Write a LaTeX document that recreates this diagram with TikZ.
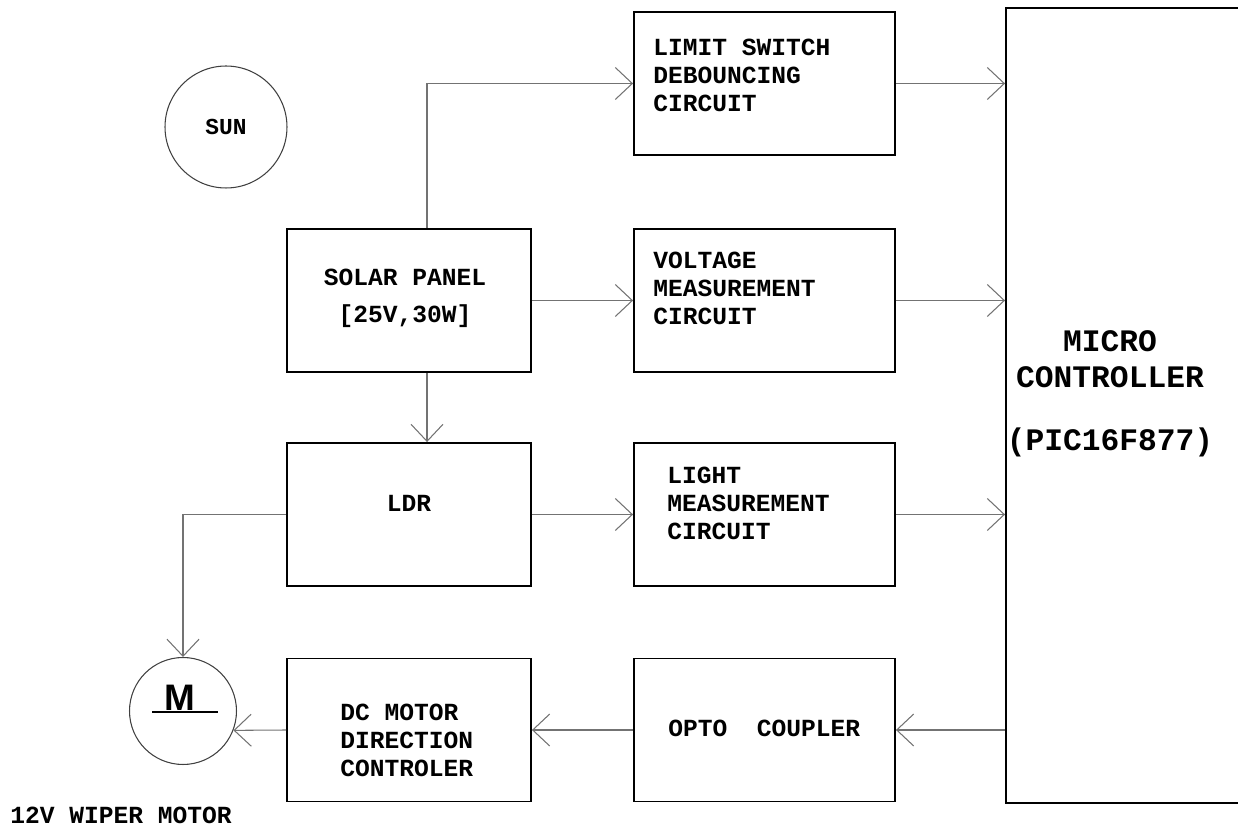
\documentclass[tikz,border=0pt]{standalone}
\usepackage{fontspec}
\setmainfont{Liberation Mono}
\newfontfamily\motorfont{Liberation Sans}
\usetikzlibrary{arrows.meta}
\usetikzlibrary{positioning}
\tikzset{
  Blk/.style={
    rectangle, draw=black, line width=1.1pt,
    minimum width=5.22cm, minimum height=2.86cm, inner sep=0pt,
  },
  BigBlk/.style={Blk, minimum width=4.88cm},
  Txt/.style={
    font=\bfseries\fontsize{14}{15.9}\selectfont, align=left, inner sep=0pt,
  },
  Ball/.style={circle, draw=black!75, line width=0.6pt, inner sep=0pt},
  Wire/.style={draw=black!55, line width=0.6pt, -{Straight Barb[length=3.4mm, width=6.4mm]}},
}

\begin{document}
\begin{tikzpicture}[x=0.02cm, y=-0.02cm]
\clip (0,0) rectangle (1238,827);
\node[Ball, minimum size=2.44cm] (sun) at (226,127) {};
\node[Txt, font=\bfseries\fontsize{13}{15}\selectfont] (sunT) at (226,127) {SUN};
\node[BigBlk] (solar) at (409,300.5) {};
\node[Txt, align=center, font=\bfseries\fontsize{14}{21}\selectfont] (solarT) at (405,298) {SOLAR PANEL\\{[}25V,30W{]}};
\node[BigBlk] (ldr) at (409,514.5) {};
\node[Txt] (ldrT) at (409,503) {LDR};
\node[BigBlk] (dcm) at (409,730) {};
\node[Txt, anchor=west] (dcmT) at (340,740) {DC MOTOR\\DIRECTION\\CONTROLER};
\node[Blk] (limit) at (764.5,83.5) {};
\node[Txt, anchor=west] (limitT) at (653,75) {LIMIT SWITCH\\DEBOUNCING\\CIRCUIT};
\node[Blk] (volt) at (764.5,300.5) {};
\node[Txt, anchor=west] (voltT) at (653,288) {VOLTAGE\\MEASUREMENT\\CIRCUIT};
\node[Blk] (light) at (764.5,514.5) {};
\node[Txt, anchor=west] (lightT) at (667,503) {LIGHT\\MEASUREMENT\\CIRCUIT};
\node[Blk] (opto) at (764.5,730) {};
\node[Txt, anchor=west] (optoT) at (668,728) {OPTO\ \ COUPLER};
\node[Blk, minimum width=4.88cm, minimum height=15.9cm] (micro) at (1128,405.5) {};
\node[Txt, align=center, font=\bfseries\fontsize{17.8}{20.5}\selectfont] (microT) at (1110,394) {MICRO\\CONTROLLER\\[0.55cm](PIC16F877)};
\node[Ball, minimum size=2.14cm] (motor) at (183,711) {};
\node[inner sep=0pt, font=\motorfont\bfseries\fontsize{21}{24}\selectfont] (motorT) at (180,698) {M};
\draw[line width=0.6pt] (152,712) -- (218,712);
\node[Txt, anchor=west] (wiper) at (10,815) {12V WIPER MOTOR};
\draw[Wire] ([xshift=0.36cm]solar.north) |- (limit.west);
\draw[Wire] (solar.east) -- (volt.west);
\draw[Wire] ([xshift=0.36cm]solar.south) -- ([xshift=0.36cm]ldr.north);
\draw[Wire] (ldr.east) -- (light.west);
\draw[Wire] (ldr.west) -| (motor.north);
\draw[Wire] (limit.east) -- (limit.east -| micro.west);
\draw[Wire] (volt.east) -- (volt.east -| micro.west);
\draw[Wire] (light.east) -- (light.east -| micro.west);
\draw[Wire] (opto.east -| micro.west) -- (opto.east);
\draw[Wire] (opto.west) -- (dcm.east);
\draw[Wire] (dcm.west) -- (motor.-21);
\end{tikzpicture}
\end{document}
